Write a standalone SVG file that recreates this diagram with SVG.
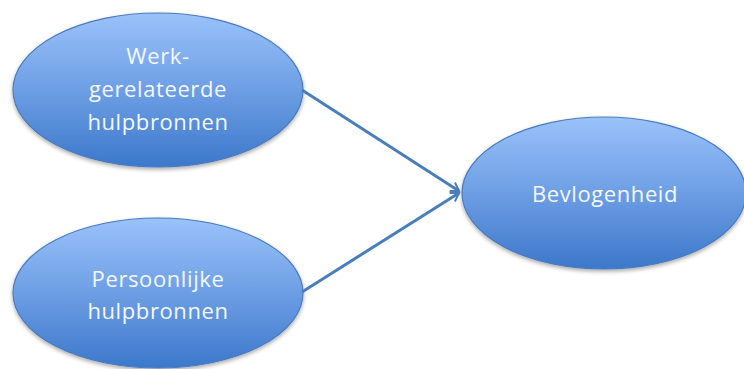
<svg xmlns="http://www.w3.org/2000/svg" width="744" height="369" viewBox="0 0 744 369">
<style>
.node ellipse{fill:url(#g);stroke:#4a7bbf;stroke-width:1.2}
.node text{font-family:"Open Sans","Liberation Sans",sans-serif;font-size:22px;letter-spacing:0.6px;fill:#f4f7ff;text-anchor:middle}
.conn line{stroke:#4a7ebb;stroke-width:3}
</style>
<defs>
<linearGradient id="g" x1="0" y1="0" x2="0" y2="1">
<stop offset="0" stop-color="#9ac2fa"/>
<stop offset="0.5" stop-color="#6d9ee4"/>
<stop offset="1" stop-color="#3c78cb"/>
</linearGradient>
<filter id="sh" x="-10%" y="-10%" width="120%" height="130%">
<feGaussianBlur in="SourceAlpha" stdDeviation="2"/>
<feOffset dy="2"/>
<feComponentTransfer><feFuncA type="linear" slope="0.35"/></feComponentTransfer>
<feMerge><feMergeNode/><feMergeNode in="SourceGraphic"/></feMerge>
</filter>
<marker id="ah" viewBox="0 0 12 12" refX="10" refY="6" markerWidth="4" markerHeight="4" orient="auto" markerUnits="strokeWidth">
<path d="M2,1 L10,6 L2,11" fill="none" stroke="#4a7ebb" stroke-width="2"/>
</marker>
</defs>
<g id="n1" class="node">
<ellipse cx="158" cy="90" rx="145" ry="77" filter="url(#sh)"/>
<text x="158" y="64">Werk-</text>
<text x="158" y="97">gerelateerde</text>
<text x="158" y="130">hulpbronnen</text>
</g>
<g id="n2" class="node">
<ellipse cx="158" cy="293" rx="145" ry="75" filter="url(#sh)"/>
<text x="158" y="287">Persoonlijke</text>
<text x="158" y="319">hulpbronnen</text>
</g>
<g id="n3" class="node">
<ellipse cx="604" cy="193" rx="142" ry="76" filter="url(#sh)"/>
<text x="605" y="202">Bevlogenheid</text>
</g>
<g id="connectors" class="conn">
<line x1="302" y1="90" x2="459" y2="191" marker-end="url(#ah)"/>
<line x1="302" y1="292" x2="459" y2="193" marker-end="url(#ah)"/>
</g>
</svg>
